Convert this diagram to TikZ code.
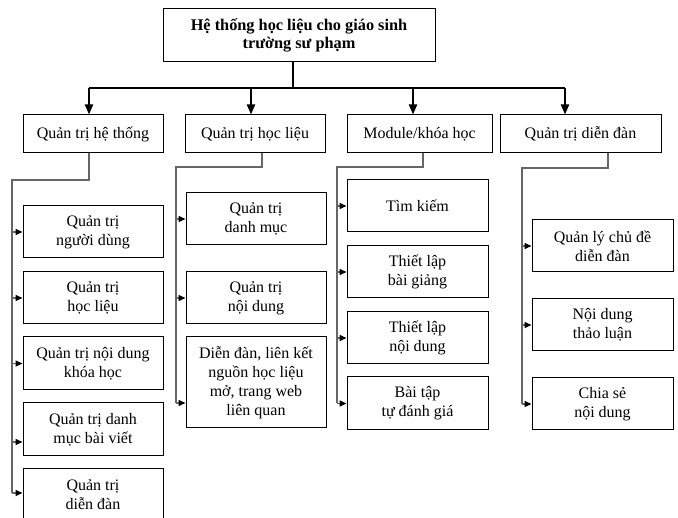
\documentclass[tikz,border=0pt]{standalone}
\usepackage{fontspec}
\setmainfont{Liberation Serif}
\usetikzlibrary{arrows.meta,calc}
\begin{document}
\begin{tikzpicture}[x=1pt,y=-1pt,
 box/.style={draw, line width=1pt, align=center, inner sep=0pt, font=\fontsize{16}{19}\selectfont},
 bus/.style={line width=1.4pt},
 bigarrow/.style={line width=2pt, -{Triangle[length=10pt,width=8pt]}},
 branch/.style={line width=1.5pt, draw=black!60},
 tip/.style={line width=1.5pt, draw=black!60, -{Triangle[length=7pt,width=6pt,color=black]}},
]
\useasboundingbox (0,0) rectangle (678,518);

% top
\node[box, font=\bfseries\fontsize{16.3}{18}\selectfont, minimum width=272, minimum height=53] (top) at (299,35.5) {Hệ thống học liệu cho giáo sinh\\trường sư phạm};

% level 1
\node[box, minimum width=140, minimum height=38] (L1) at (93,134) {Quản trị hệ thống};
\node[box, minimum width=140, minimum height=38] (L2) at (255,134) {Quản trị học liệu};
\node[box, minimum width=145, minimum height=38] (L3) at (419.5,134) {Module/khóa học};
\node[box, minimum width=161, minimum height=38] (L4) at (580.5,134) {Quản trị diễn đàn};

% bus
\coordinate (hub) at (293,88);
\coordinate (b1) at (89,88);
\coordinate (b2) at (251,88);
\coordinate (b3) at (413,88);
\coordinate (b4) at (565,88);
\draw[bus] (hub |- top.south) -- (hub);
\draw[bus] (b1) -- (b4);
\draw[bigarrow] (b1) -- (b1 |- L1.north);
\draw[bigarrow] (b2) -- (b2 |- L2.north);
\draw[bigarrow] (b3) -- (b3 |- L3.north);
\draw[bigarrow] (b4) -- (b4 |- L4.north);

% column 1
\node[box, minimum width=140, minimum height=52] (A1) at (93,232) {Quản trị\\người dùng};
\node[box, minimum width=140, minimum height=52] (A2) at (93,298) {Quản trị\\học liệu};
\node[box, minimum width=140, minimum height=53] (A3) at (93,363.5) {Quản trị nội dung\\khóa học};
\node[box, minimum width=140, minimum height=53] (A4) at (93,429.5) {Quản trị danh\\mục bài viết};
\node[box, minimum width=140, minimum height=52] (A5) at (93,495) {Quản trị\\diễn đàn};
\coordinate (s1) at (89,180);
\coordinate (v1) at (12,180);
\coordinate (e1) at (12,493);
\draw[branch] (s1 |- L1.south) -- (s1) -- (v1) -- (e1);
\draw[tip] (v1 |- A1.west) -- (A1.west);
\draw[tip] (v1 |- A2.west) -- (A2.west);
\draw[tip] (v1 |- A3.west) -- (A3.west);
\coordinate (a4) at ($(A4.west)+(0,12.5)$);
\draw[tip] (v1 |- a4) -- (a4);
\draw[tip] (e1) -- (e1 -| A5.west);

% column 2
\node[box, minimum width=140, minimum height=52] (B1) at (256,219) {Quản trị\\danh mục};
\node[box, minimum width=140, minimum height=52] (B2) at (256,298) {Quản trị\\nội dung};
\node[box, minimum width=140, minimum height=91] (B3) at (256,382.5) {Diễn đàn, liên kết\\nguồn học liệu\\mở, trang web\\liên quan};
\coordinate (s2) at (262,167);
\coordinate (v2) at (176,167);
\coordinate (e2) at (176,403);
\draw[branch] (s2 |- L2.south) -- (s2) -- (v2) -- (e2);
\draw[tip] (v2 |- B1.west) -- (B1.west);
\draw[tip] (v2 |- B2.west) -- (B2.west);
\draw[tip] (e2) -- (e2 -| B3.west);

% column 3
\node[box, minimum width=141, minimum height=52] (C1) at (417.5,206) {Tìm kiếm};
\node[box, minimum width=141, minimum height=52] (C2) at (417.5,272) {Thiết lập\\bài giảng};
\node[box, minimum width=141, minimum height=52] (C3) at (417.5,338) {Thiết lập\\nội dung};
\node[box, minimum width=141, minimum height=53] (C4) at (417.5,403.5) {Bài tập\\tự đánh giá};
\coordinate (s3) at (423,167);
\coordinate (v3) at (337,167);
\coordinate (e3) at (337,403.5);
\draw[branch] (s3 |- L3.south) -- (s3) -- (v3) -- (e3);
\draw[tip] (v3 |- C1.west) -- (C1.west);
\draw[tip] (v3 |- C2.west) -- (C2.west);
\draw[tip] (v3 |- C3.west) -- (C3.west);
\draw[tip] (e3) -- (C4.west);

% column 4
\node[box, minimum width=141, minimum height=52] (D1) at (602.5,246) {Quản lý chủ đề\\diễn đàn};
\node[box, minimum width=141, minimum height=52] (D2) at (602.5,325) {Nội dung\\thảo luận};
\node[box, minimum width=141, minimum height=52] (D3) at (602.5,404) {Chia sẻ\\nội dung};
\coordinate (s4) at (608,168);
\coordinate (v4) at (522,168);
\coordinate (e4) at (522,404);
\draw[branch] (s4 |- L4.south) -- (s4) -- (v4) -- (e4);
\draw[tip] (v4 |- D1.west) -- (D1.west);
\draw[tip] (v4 |- D2.west) -- (D2.west);
\draw[tip] (e4) -- (D3.west);
\end{tikzpicture}
\end{document}
